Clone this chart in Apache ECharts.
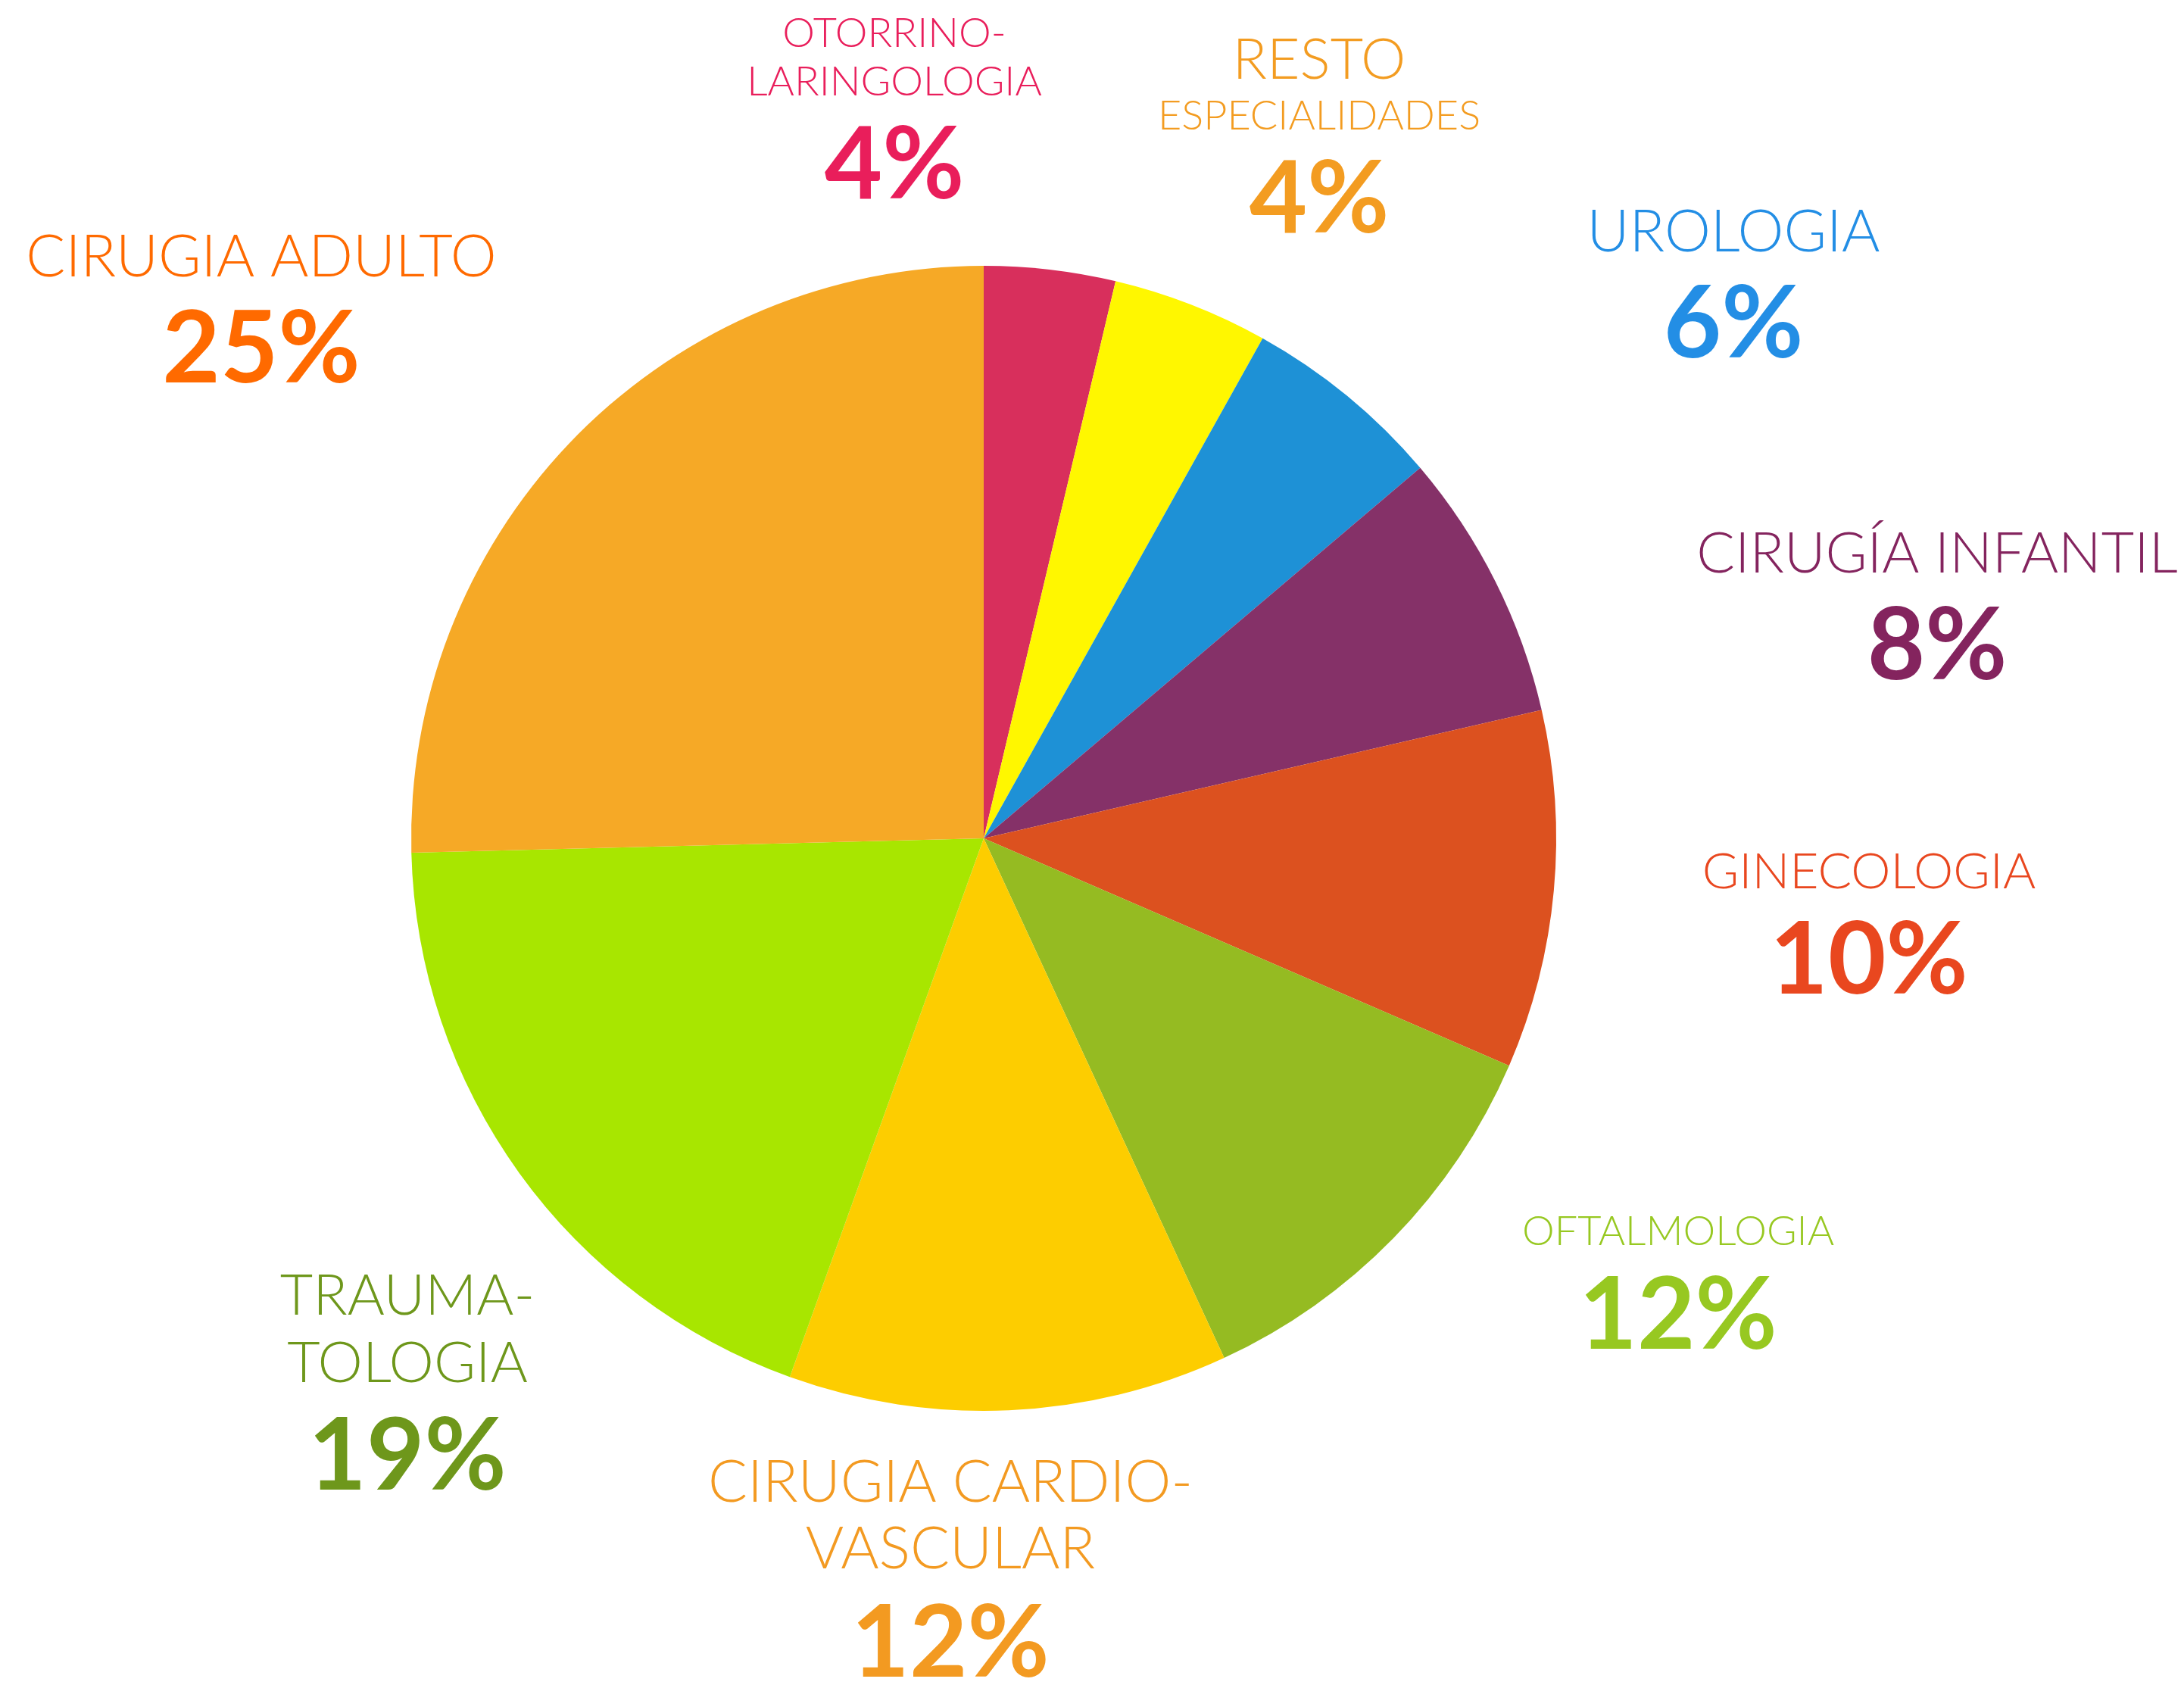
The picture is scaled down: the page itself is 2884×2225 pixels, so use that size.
<!DOCTYPE html>
<html style="height: 100%">
<head>
  <meta charset="utf-8">
  <title>Especialidades</title>
</head>
<body style="height: 100%; margin: 0; background: #ffffff">
  <div id="container" style="width: 2884px; height: 2225px"></div>
  <script src="https://cdn.jsdelivr.net/npm/echarts@6/dist/echarts.min.js"></script>
  <script>
    // datos (sentido horario desde las 12)
    const categories = ['OTORRINO-\nLARINGOLOGIA', 'RESTO\nESPECIALIDADES', 'UROLOGIA', 'CIRUGÍA INFANTIL',
      'GINECOLOGIA', 'OFTALMOLOGIA', 'CIRUGIA CARDIO-\nVASCULAR', 'TRAUMA-\nTOLOGIA', 'CIRUGIA ADULTO'];
    const values = [3.7, 4.4, 5.7, 7.6, 10.1, 11.6, 12.4, 19.1, 25.4];

    // colores
    const sliceColors = ['#D82F5C', '#FFF700', '#1E91D6', '#853168', '#DC511F', '#95BB22', '#FDCD00', '#A8E600', '#F6A926'];
    const labelColors = ['#E91E5B', '#F39C21', '#238EE5', '#84245E', '#E9471F', '#97C821', '#F39A21', '#6E971B', '#FF6A00'];

    // posicion de etiquetas: x centro, y arriba, tamaños y alturas de linea
    const labelBoxes = [
      { x: 1181, y: 13, fs: [54, 54], lh: [64, 64], plh: 157 },
      { x: 1742, y: 38, fs: [75, 54], lh: [84, 64], plh: 156 },
      { x: 2289, y: 263, fs: [77], lh: [88], plh: 156 },
      { x: 2558, y: 688, fs: [75], lh: [88], plh: 156 },
      { x: 2468, y: 1113, fs: [66], lh: [78], plh: 156 },
      { x: 2216, y: 1594, fs: [54], lh: [66], plh: 156 },
      { x: 1255, y: 1914, fs: [77, 77], lh: [88, 88], plh: 162 },
      { x: 538, y: 1667, fs: [75, 75], lh: [89, 89], plh: 159 },
      { x: 345, y: 296, fs: [77], lh: [88], plh: 156 }
    ];

    const fontName = 'Lato, "Open Sans", sans-serif';

    const seriesData = categories.map((name, i) => {
      const box = labelBoxes[i];
      const rich = {
        p: { fontSize: 132, fontWeight: 'bold', lineHeight: box.plh, color: labelColors[i], fontFamily: fontName }
      };
      box.fs.forEach((fs, k) => {
        rich['n' + k] = { fontSize: fs, fontWeight: 300, lineHeight: box.lh[k], color: labelColors[i], fontFamily: fontName };
      });
      return {
        name: name,
        value: values[i],
        itemStyle: { color: sliceColors[i] },
        label: { rich: rich }
      };
    });

    const chart = echarts.init(document.getElementById('container'));
    chart.setOption({
      animation: false,
      series: [{
        type: 'pie',
        center: [1299, 1107],
        radius: 756,
        startAngle: 90,
        clockwise: true,
        data: seriesData,
        itemStyle: { borderWidth: 0 },
        labelLine: { show: false },
        label: {
          show: true,
          position: 'outside',
          align: 'center',
          formatter: (p) => {
            const lines = p.name.split('\n').map((t, k) => '{n' + k + '|' + t + '}');
            return lines.join('\n') + '\n{p|' + Math.round(p.value) + '%}';
          }
        },
        labelLayout: (params) => {
          const box = labelBoxes[params.dataIndex];
          return { x: box.x, y: box.y, align: 'center', verticalAlign: 'top' };
        }
      }]
    });
  </script>
</body>
</html>
